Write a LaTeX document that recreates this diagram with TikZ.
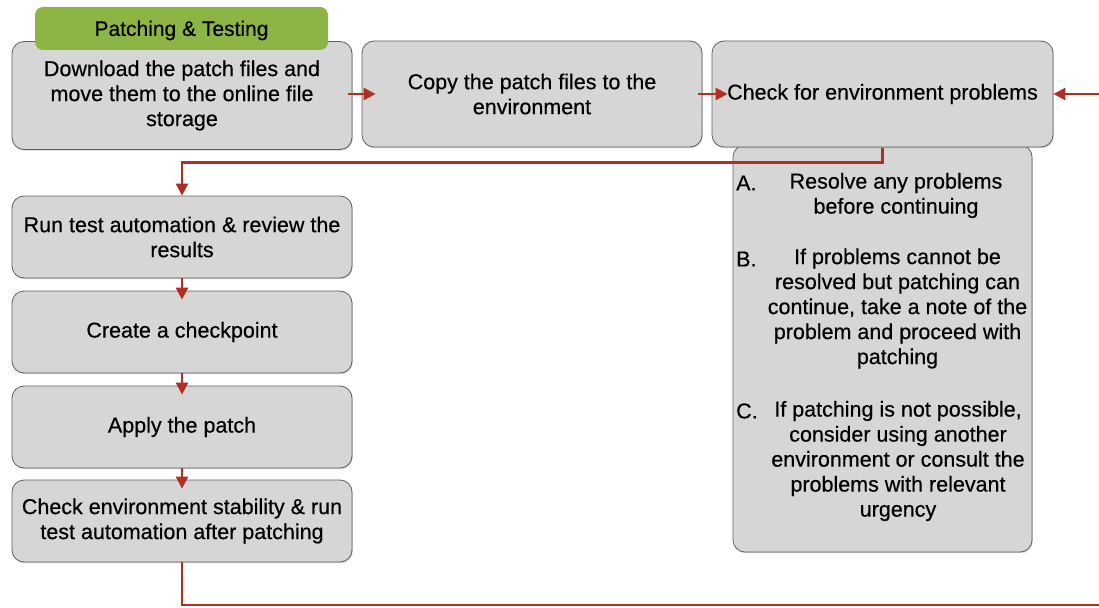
\documentclass[tikz,border=0pt]{standalone}
\usepackage{fontspec}
\setmainfont{Liberation Sans}[FakeBold=0.4]
\usetikzlibrary{arrows.meta,shadows}
\definecolor{boxfill}{RGB}{214,214,214}
\definecolor{boxline}{RGB}{95,95,95}
\definecolor{hdrgreen}{RGB}{140,181,70}
\definecolor{arrred}{RGB}{176,46,34}
\tikzset{
  box/.style={draw=boxline, line width=0.8pt, fill=boxfill, rounded corners=12pt,
    inner sep=0pt, align=center, font=\fontsize{21.5}{25}\selectfont,
    drop shadow={shadow xshift=0.8pt, shadow yshift=-1.2pt, opacity=0.35}},
  hdr/.style={fill=hdrgreen, rounded corners=8pt, inner sep=0pt},
  txt/.style={inner sep=0pt, align=center, font=\fontsize{21.5}{25}\selectfont},
  arr/.style={draw=arrred, line width=2.6pt, -{Triangle[length=12pt,width=12pt]}},
}
\begin{document}
\begin{tikzpicture}[x=1pt,y=-1pt]
\useasboundingbox (0,0) rectangle (1099,607);
% note box behind check box
\node[box, minimum width=299pt, minimum height=407pt] (note) at (882.5,348.5) {};
\node[box, minimum width=340pt, minimum height=108pt] (b1) at (182,95.5)
  {Download the patch files and\\move them to the online file\\storage};
\node[hdr, minimum width=293pt, minimum height=43pt] (hdr) at (181.5,28.5) {};
\node[txt, font=\fontsize{21}{25}\selectfont] (hdrt) at ([yshift=-2pt]hdr.center) {Patching \& Testing};
\node[box, minimum width=340pt, minimum height=106pt] (b2) at (532,94)
  {Copy the patch files to the\\environment};
\node[box, minimum width=341pt, minimum height=106pt] (b3) at (882.5,94)
  {Check for environment problems};
\node[box, minimum width=340pt, minimum height=82pt] (b4) at (182,237)
  {Run test automation \& review the\\results};
\node[box, minimum width=340pt, minimum height=82pt] (b5) at (182,332)
  {Create a checkpoint};
\node[box, minimum width=340pt, minimum height=82pt] (b6) at (182,427)
  {Apply the patch};
\node[box, minimum width=340pt, minimum height=82pt] (b7) at (182,521)
  {Check environment stability \& run\\test automation after patching};
% note contents
\node[txt, anchor=west] (la) at (736,183) {A.};
\node[txt] (ta) at (896,195.5) {Resolve any problems\\before continuing};
\node[txt, anchor=west] (lb) at (736,259) {B.};
\node[txt] (tb) at (897.5,308.5) {If problems cannot be\\resolved but patching can\\continue, take a note of the\\problem and proceed with\\patching};
\node[txt, anchor=west] (lc) at (736,411) {C.};
\node[txt] (tc) at (898,461) {If patching is not possible,\\consider using another\\environment or consult the\\problems with relevant\\urgency};
% connectors
\draw[arr] ([xshift=-4pt]b1.east|-b2.west) -- ([xshift=14pt]b2.west);
\draw[arr] ([xshift=-4pt]b2.east) -- ([xshift=16pt]b3.west);
\draw[arr] ([yshift=-1pt]b3.south) -- ++(0,14) -| (b4.north);
\draw[arr] (b4.south) -- ([yshift=-9pt]b5.north);
\draw[arr] (b5.south) -- ([yshift=-9pt]b6.north);
\draw[arr] (b6.south) -- ([yshift=-9pt]b7.north);
\coordinate (c1) at (182,605);
\coordinate (c2) at (1103,605);
\coordinate (c3) at (1103,94);
\draw[arr] (b7.south) -- (c1) -- (c2) -- (c3) -- (b3.east);
\end{tikzpicture}
\end{document}
